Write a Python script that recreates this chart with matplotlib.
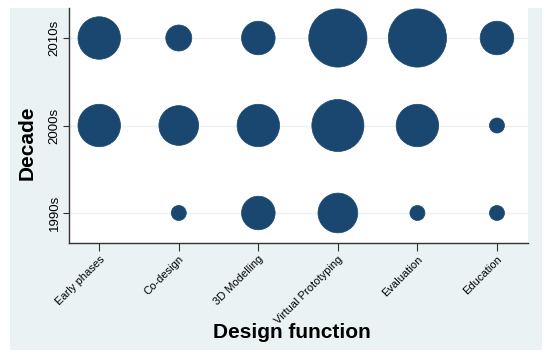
import matplotlib
matplotlib.use('agg')
import matplotlib.pyplot as plt
import matplotlib.patches as patches
import numpy as np

plt.rcParams['font.family'] = ['Liberation Sans', 'DejaVu Sans']

functions = ['Early phases', 'Co-design', '3D Modelling', 'Virtual Prototyping',
             'Evaluation', 'Education']
decades = ['1990s', '2000s', '2010s']

# number of studies per design function, one list per decade
n_1990s = [0, 1, 5, 7, 1, 1]
n_2000s = [8, 7, 8, 12, 8, 1]
n_2010s = [8, 3, 5, 15, 15, 5]

counts = [n_1990s, n_2000s, n_2010s]

navy = '#1a476f'
panel = '#eaf2f3'

fig = plt.figure(figsize=(5.5, 3.63), dpi=100)
fig.patches.append(patches.Rectangle((10 / 550, 13 / 363), 532 / 550, 342 / 363,
                                     transform=fig.transFigure, facecolor=panel,
                                     edgecolor='none', zorder=-10))

ax = fig.add_axes([69 / 550, 120 / 363, 459 / 550, 235 / 363])
ax.set_facecolor('white')

xpos = np.arange(1, len(functions) + 1)
for i, row in enumerate(counts):
    ax.scatter(xpos, [i + 1] * len(xpos), s=np.array(row) * 117, color=navy,
               edgecolors=navy, linewidths=0.5, zorder=3)

ax.set_xlim(0.62, 6.39)
ax.set_ylim(0.657, 3.343)
ax.set_xticks(xpos)
ax.set_xticklabels(functions, rotation=45, ha='right', rotation_mode='anchor',
                   fontsize=8)
ax.set_yticks([1, 2, 3])
ax.set_yticklabels(decades, rotation=90, va='center', fontsize=9.5)

ax.grid(axis='y', color=panel, linewidth=1, zorder=0)
ax.set_axisbelow(True)
for s in ['top', 'right']:
    ax.spines[s].set_visible(False)
for s in ['left', 'bottom']:
    ax.spines[s].set_color('#333333')
    ax.spines[s].set_linewidth(1)
ax.tick_params(axis='x', length=6, color='#333333', pad=2)
ax.tick_params(axis='y', length=4, color='#333333', pad=2)

fig.text(27 / 550, 1 - 143 / 363, 'Decade', rotation=90, fontsize=15,
         fontweight='bold', ha='center', va='center')
fig.text(292 / 550, 1 - 333 / 363, 'Design function', fontsize=15,
         fontweight='bold', ha='center', va='center')

fig.savefig('out.png', dpi=100)
